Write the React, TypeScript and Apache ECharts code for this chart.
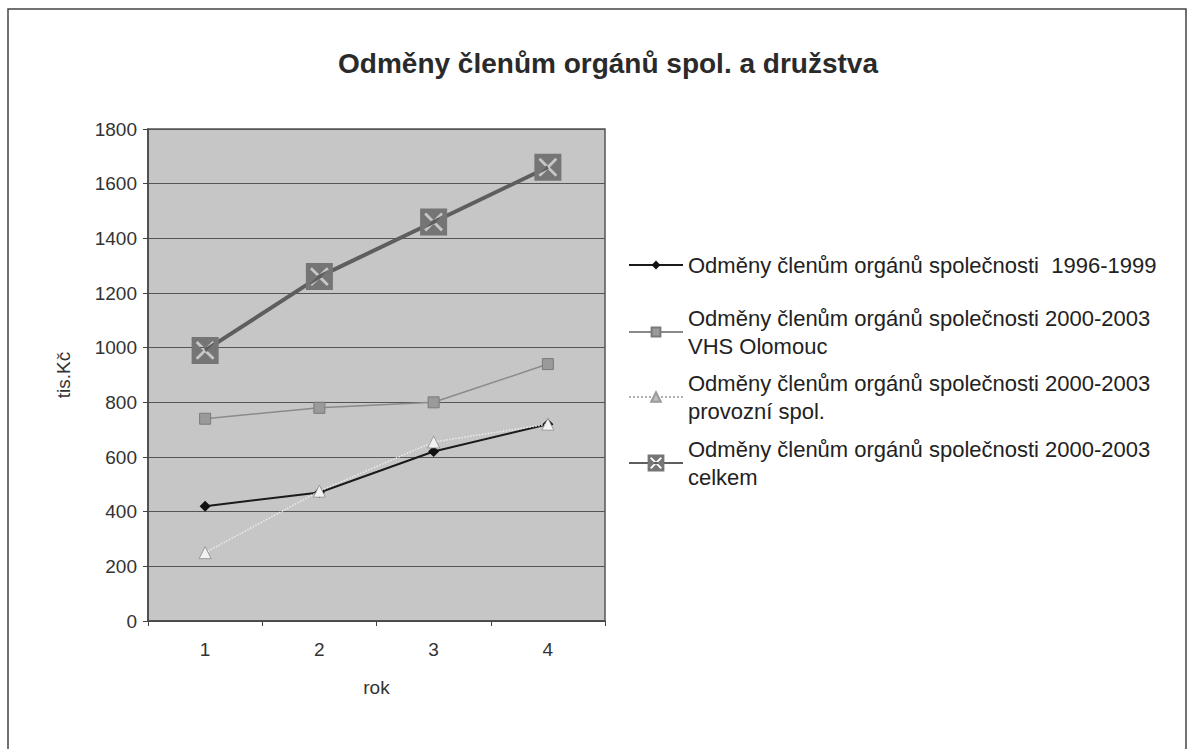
import React, { useEffect, useRef } from "react";
import * as echarts from "echarts";

const categories = ["1", "2", "3", "4"];
const seriesNames = [
  "Odměny členům orgánů společnosti  1996-1999",
  "Odměny členům orgánů společnosti 2000-2003\nVHS Olomouc",
  "Odměny členům orgánů společnosti 2000-2003\nprovozní spol.",
  "Odměny členům orgánů společnosti 2000-2003\ncelkem",
];
const values1996 = [420, 470, 620, 720];
const valuesVHS = [740, 780, 800, 940];
const valuesProvozni = [250, 475, 655, 720];
const valuesCelkem = [990, 1260, 1460, 1660];

const titleText = "Odměny členům orgánů spol. a družstva";
const yAxisName = "tis.Kč";
const xAxisName = "rok";

const FONT = "'Liberation Sans', Arial, sans-serif";

// square with an X-shaped hole (reverse winding)
const xSquare =
  "path://M0 0L20 0L20 20L0 20Z" +
  "M3 4.5L8.5 10L3 15.5L4.5 17L10 11.5L15.5 17L17 15.5L11.5 10L17 4.5L15.5 3L10 8.5L4.5 3Z";

export default function App() {
  const ref = useRef<HTMLDivElement>(null);
  useEffect(() => {
    if (!ref.current) return;
    const chart = echarts.init(ref.current, undefined, { renderer: "svg" });
    const legendText = {
      fontFamily: FONT,
      fontSize: 22,
      color: "#222",
      lineHeight: 28,
    };
    const legendText2 = { ...legendText, padding: [28, 0, 0, 0] };
    chart.setOption({
      animation: false,
      backgroundColor: "#ffffff",
      title: {
        text: titleText,
        left: 603,
        top: 44,
        textAlign: "center",
        textStyle: {
          fontFamily: FONT,
          fontSize: 28,
          fontWeight: "bold",
          color: "#2a2a2a",
        },
      },
      graphic: [
        {
          type: "rect",
          shape: { x: 8, y: 9, width: 1178, height: 780 },
          style: { fill: "none", stroke: "#444", lineWidth: 1.5 },
          silent: true,
        },
      ],
      grid: {
        left: 148,
        top: 129,
        width: 457,
        height: 492,
        show: true,
        backgroundColor: "#c6c6c6",
        borderColor: "#555",
        borderWidth: 1.5,
      },
      legend: [
        {
          data: [seriesNames[0]],
          left: 628,
          top: 251,
          padding: 0,
          itemWidth: 54,
          itemHeight: 11,
          itemGap: 0,
          selectedMode: false,
          textStyle: legendText,
        },
        {
          data: [seriesNames[1]],
          left: 628,
          top: 290,
          padding: 0,
          itemWidth: 54,
          itemHeight: 11,
          selectedMode: false,
          textStyle: legendText2,
        },
        {
          data: [seriesNames[2]],
          left: 628,
          top: 355,
          padding: 0,
          itemWidth: 54,
          itemHeight: 12,
          selectedMode: false,
          lineStyle: { color: "#b0b0b0" },
          itemStyle: { color: "#bdbdbd", borderColor: "#999" },
          textStyle: legendText2,
        },
        {
          data: [seriesNames[3]],
          left: 628,
          top: 421,
          padding: 0,
          itemWidth: 54,
          itemHeight: 21,
          selectedMode: false,
          textStyle: legendText2,
        },
      ],
      xAxis: {
        type: "category",
        data: categories,
        boundaryGap: true,
        name: xAxisName,
        nameLocation: "middle",
        nameGap: 57,
        nameTextStyle: { fontFamily: FONT, fontSize: 19, color: "#333" },
        axisLine: { lineStyle: { color: "#444", width: 1.5 } },
        axisTick: { show: true, length: 5, alignWithLabel: false, lineStyle: { color: "#444" } },
        axisLabel: { fontFamily: FONT, fontSize: 19, color: "#333", margin: 19 },
        splitLine: { show: false },
      },
      yAxis: {
        type: "value",
        min: 0,
        max: 1800,
        interval: 200,
        name: yAxisName,
        nameLocation: "middle",
        nameGap: 75,
        nameTextStyle: { fontFamily: FONT, fontSize: 19, color: "#333" },
        axisLine: { show: true, lineStyle: { color: "#444", width: 1.5 } },
        axisTick: { show: true, length: 5, lineStyle: { color: "#444" } },
        axisLabel: {
          fontFamily: FONT,
          fontSize: 19,
          color: "#333",
          margin: 11,
          formatter: (v: number) => String(v),
        },
        splitLine: { show: true, lineStyle: { color: "#555", width: 1 } },
      },
      series: [
        {
          name: seriesNames[0],
          type: "line",
          data: values1996,
          symbol: "diamond",
          symbolSize: 11,
          itemStyle: { color: "#111" },
          lineStyle: { color: "#1a1a1a", width: 2 },
          z: 2,
        },
        {
          name: seriesNames[1],
          type: "line",
          data: valuesVHS,
          symbol: "rect",
          symbolSize: 11,
          itemStyle: { color: "#9a9a9a", borderColor: "#7a7a7a", borderWidth: 1 },
          lineStyle: { color: "#8a8a8a", width: 1.5 },
          z: 3,
        },
        {
          name: seriesNames[2],
          type: "line",
          data: valuesProvozni,
          symbol: "triangle",
          symbolSize: 12,
          itemStyle: { color: "#f2f2f2", borderColor: "#8a8a8a", borderWidth: 0.8 },
          lineStyle: { color: "#ececec", width: 1.5, type: "dotted" },
          z: 4,
        },
        {
          name: seriesNames[3],
          type: "line",
          data: valuesCelkem,
          symbol: xSquare,
          symbolSize: 27,
          itemStyle: { color: "#757575" },
          lineStyle: { color: "#5e5e5e", width: 4 },
          z: 5,
        },
      ],
    });
    return () => chart.dispose();
  }, []);
  return (
    <div
      ref={ref}
      style={{ position: "absolute", left: 0, top: 0, width: 1194, height: 749 }}
    />
  );
}
